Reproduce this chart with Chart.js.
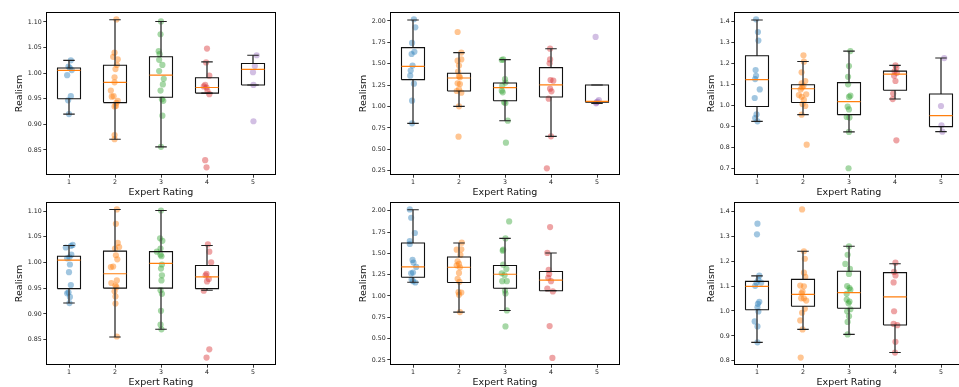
<!DOCTYPE html>
<html><head><meta charset="utf-8">
<script src="https://cdn.jsdelivr.net/npm/chart.js@4.4.1/dist/chart.umd.min.js"></script>
<style>
html,body{margin:0;padding:0;background:#fff;overflow:hidden;width:959px;height:387px;position:relative;}
canvas{position:absolute;}
</style></head><body>
<canvas id="c1" width="280" height="198" style="left:0px;top:0px"></canvas>
<canvas id="c2" width="280" height="198" style="left:344px;top:0px"></canvas>
<canvas id="c3" width="280" height="198" style="left:688px;top:0px"></canvas>
<canvas id="c4" width="280" height="194" style="left:0px;top:194px"></canvas>
<canvas id="c5" width="280" height="194" style="left:344px;top:194px"></canvas>
<canvas id="c6" width="280" height="194" style="left:688px;top:194px"></canvas>
<script>
// ---------- shared ----------
const categories = [1, 2, 3, 4, 5];
const xTickLabels = ['1', '2', '3', '4', '5'];
const xTitle = 'Expert Rating';
const yTitle = 'Realism';
const seriesColors = ['rgba(31,119,180,0.42)', 'rgba(255,127,14,0.45)', 'rgba(44,160,44,0.42)', 'rgba(214,39,40,0.42)', 'rgba(148,103,189,0.42)'];

// ---------- tick values / labels ----------
const ticksA = [0.85, 0.90, 0.95, 1.00, 1.05, 1.10];
const labelsA = ['0.85', '0.90', '0.95', '1.00', '1.05', '1.10'];
const ticksB = [0.25, 0.50, 0.75, 1.00, 1.25, 1.50, 1.75, 2.00];
const labelsB = ['0.25', '0.50', '0.75', '1.00', '1.25', '1.50', '1.75', '2.00'];
const ticksC = [0.7, 0.8, 0.9, 1.0, 1.1, 1.2, 1.3, 1.4];
const labelsC = ['0.7', '0.8', '0.9', '1.0', '1.1', '1.2', '1.3', '1.4'];
const ticksF = [0.8, 0.9, 1.0, 1.1, 1.2, 1.3, 1.4];
const labelsF = ['0.8', '0.9', '1.0', '1.1', '1.2', '1.3', '1.4'];

// ---------- panel 1 (top-left) ----------
const p1_q1  = [0.950, 0.9425, 0.953, 0.961, 0.977];
const p1_med = [1.0056, 0.982, 0.996, 0.972, 1.0075];
const p1_q3  = [1.010, 1.0154, 1.032, 0.991, 1.019];
const p1_lo  = [0.920, 0.871, 0.856, 0.961, 0.977];
const p1_hi  = [1.025, 1.1045, 1.101, 1.022, 1.035];
const p1_c1_x = [1.04, 0.99, 1.02, 1.06, 0.96, 1.04, 0.98, 1.00];
const p1_c1_y = [1.025, 1.013, 1.010, 1.006, 0.996, 0.955, 0.947, 0.920];
const p1_c2_x = [2.03, 1.99, 1.96, 2.06, 2.04, 2.01, 1.99, 1.99, 1.91, 1.97, 1.93, 2.06, 2.03, 1.99, 2.02, 1.99, 1.99];
const p1_c2_y = [1.105, 1.040, 1.032, 1.027, 1.016, 1.008, 0.992, 0.982, 0.966, 0.955, 0.954, 0.946, 0.942, 0.935, 0.936, 0.879, 0.871];
const p1_c3_x = [3.00, 2.99, 2.95, 2.97, 2.96, 3.03, 2.96, 3.06, 3.04, 2.99, 3.02, 3.05, 3.03, 3.00];
const p1_c3_y = [1.101, 1.076, 1.043, 1.037, 1.026, 1.016, 1.004, 0.989, 0.978, 0.966, 0.949, 0.946, 0.917, 0.856];
const p1_c4_x = [4.00, 3.98, 4.05, 3.96, 3.99, 3.93, 4.01, 4.05, 3.96, 3.99];
const p1_c4_y = [1.048, 1.021, 0.995, 0.977, 0.972, 0.974, 0.965, 0.959, 0.830, 0.816];
const p1_c5_x = [5.08, 5.04, 5.00, 5.01, 5.01];
const p1_c5_y = [1.035, 1.014, 1.002, 0.977, 0.906];

// ---------- panel 2 (top-middle) ----------
const p2_q1  = [1.314, 1.181, 1.068, 1.111, 1.049];
const p2_med = [1.47, 1.333, 1.22, 1.252, 1.06];
const p2_q3  = [1.688, 1.388, 1.275, 1.454, 1.252];
const p2_lo  = [0.803, 1.002, 0.834, 0.651, 1.037];
const p2_hi  = [2.012, 1.63, 1.548, 1.676, 1.252];
const p2_c1_x = [1.02, 1.05, 0.98, 0.97, 1.03, 0.99, 0.95, 0.94, 1.02, 0.98, 0.98];
const p2_c1_y = [2.02, 1.926, 1.743, 1.614, 1.64, 1.478, 1.42, 1.36, 1.267, 1.068, 0.803];
const p2_c2_x = [1.97, 2.05, 1.97, 2.05, 2.00, 1.98, 2.00, 2.02, 1.97, 2.02, 2.00, 2.05, 1.95, 2.00, 1.99];
const p2_c2_y = [1.871, 1.63, 1.536, 1.55, 1.478, 1.408, 1.353, 1.341, 1.271, 1.263, 1.20, 1.162, 1.181, 1.002, 0.647];
const p2_c3_x = [2.93, 2.96, 3.00, 3.01, 2.94, 2.93, 2.95, 2.98, 3.01, 3.06, 3.02];
const p2_c3_y = [1.544, 1.55, 1.32, 1.28, 1.244, 1.185, 1.166, 1.049, 1.04, 0.834, 0.577];
const p2_c4_x = [3.98, 3.98, 3.97, 3.99, 4.05, 3.98, 4.01, 3.95, 4.00, 3.91];
const p2_c4_y = [1.676, 1.55, 1.505, 1.31, 1.302, 1.209, 1.178, 1.092, 0.651, 0.277];
const p2_c5_x = [4.97, 5.04, 5.01, 4.98, 4.99];
const p2_c5_y = [1.813, 1.076, 1.057, 1.037, 1.048];

// ---------- panel 3 (top-right) ----------
const p3_q1  = [0.994, 1.013, 0.955, 1.071, 0.898];
const p3_med = [1.121, 1.078, 1.017, 1.148, 0.95];
const p3_q3  = [1.235, 1.097, 1.107, 1.162, 1.053];
const p3_lo  = [0.923, 0.955, 0.873, 1.029, 0.874];
const p3_hi  = [1.405, 1.208, 1.257, 1.189, 1.224];
const p3_c1_x = [0.98, 1.02, 1.03, 0.97, 0.98, 0.96, 1.06, 0.95, 0.99, 0.96, 1.01];
const p3_c1_y = [1.408, 1.348, 1.307, 1.167, 1.14, 1.124, 1.075, 1.034, 0.956, 0.939, 0.923];
const p3_c2_x = [2.01, 2.02, 1.97, 2.05, 1.97, 2.01, 1.98, 1.95, 1.91, 2.07, 1.97, 2.02, 1.99, 2.05, 1.97, 2.08];
const p3_c2_y = [1.237, 1.207, 1.156, 1.115, 1.104, 1.091, 1.085, 1.075, 1.048, 1.052, 1.04, 1.025, 1.006, 0.996, 0.955, 0.812];
const p3_c3_x = [3.03, 3.00, 2.98, 2.98, 3.03, 3.00, 2.97, 3.00, 2.95, 3.01, 3.00, 2.99];
const p3_c3_y = [1.257, 1.186, 1.135, 1.099, 1.045, 1.039, 0.993, 0.98, 0.944, 0.941, 0.873, 0.70];
const p3_c4_x = [4.01, 4.03, 3.99, 4.04, 3.98, 4.01, 3.96, 3.95, 4.03];
const p3_c4_y = [1.189, 1.178, 1.161, 1.154, 1.14, 1.115, 1.055, 1.029, 0.833];
const p3_c5_x = [5.07, 5.00, 5.01, 5.03];
const p3_c5_y = [1.224, 0.996, 0.904, 0.874];

// ---------- panel 4 (bottom-left) ----------
const p4_q1  = [0.949, 0.950, 0.950, 0.949, null];
const p4_med = [1.0046, 0.978, 0.998, 0.972, null];
const p4_q3  = [1.012, 1.022, 1.021, 0.994, null];
const p4_lo  = [0.921, 0.855, 0.870, 0.946, null];
const p4_hi  = [1.033, 1.103, 1.101, 1.033, null];
const p4_c1_x = [1.08, 1.04, 0.93, 1.05, 1.01, 0.96, 1.02, 1.00, 1.04, 0.99, 0.96, 1.02, 1.01];
const p4_c1_y = [1.034, 1.032, 1.029, 1.015, 1.010, 1.008, 0.996, 0.981, 0.956, 0.942, 0.940, 0.933, 0.921];
const p4_c2_x = [2.04, 2.02, 2.06, 2.09, 2.00, 2.02, 2.05, 1.96, 1.91, 2.04, 1.92, 2.01, 2.03, 1.99, 2.01, 2.01, 2.04];
const p4_c2_y = [1.103, 1.075, 1.038, 1.030, 1.027, 1.014, 1.006, 0.992, 0.991, 0.965, 0.960, 0.955, 0.952, 0.944, 0.934, 0.920, 0.856];
const p4_c3_x = [3.00, 2.98, 3.03, 2.99, 2.91, 2.99, 3.01, 3.02, 3.00, 3.02, 3.01, 2.99, 3.02, 3.00, 2.99, 3.01];
const p4_c3_y = [1.101, 1.047, 1.042, 1.027, 1.021, 1.015, 1.012, 0.996, 0.988, 0.975, 0.965, 0.946, 0.939, 0.906, 0.879, 0.870];
const p4_c4_x = [4.02, 4.05, 4.09, 3.99, 3.97, 4.04, 4.00, 3.93, 4.05, 3.99];
const p4_c4_y = [1.035, 1.021, 1.000, 0.978, 0.975, 0.968, 0.963, 0.945, 0.831, 0.815];
const p4_c5_x = [];
const p4_c5_y = [];

// ---------- panel 5 (bottom-middle) ----------
const p5_q1  = [1.22, 1.158, 1.091, 1.061, null];
const p5_med = [1.341, 1.337, 1.255, 1.185, null];
const p5_q3  = [1.622, 1.458, 1.357, 1.287, null];
const p5_lo  = [1.162, 0.811, 0.83, 1.061, null];
const p5_hi  = [2.012, 1.622, 1.676, 1.505, null];
const p5_c1_x = [0.93, 0.96, 1.04, 0.93, 0.93, 0.99, 1.01, 1.07, 0.96, 1.00, 0.97, 1.00, 1.05];
const p5_c1_y = [2.016, 1.918, 1.739, 1.645, 1.61, 1.423, 1.392, 1.341, 1.267, 1.275, 1.193, 1.174, 1.158];
const p5_c2_x = [2.06, 1.95, 2.05, 2.03, 1.97, 2.00, 1.95, 2.02, 2.00, 1.97, 2.01, 1.99, 2.05, 2.00, 2.02];
const p5_c2_y = [1.626, 1.544, 1.548, 1.482, 1.407, 1.376, 1.36, 1.337, 1.271, 1.201, 1.166, 1.045, 1.041, 1.014, 0.811];
const p5_c3_x = [3.09, 3.01, 2.96, 2.95, 2.96, 3.03, 2.93, 2.99, 2.94, 3.04, 3.00, 3.01, 3.04, 3.01];
const p5_c3_y = [1.875, 1.676, 1.544, 1.532, 1.368, 1.318, 1.267, 1.244, 1.174, 1.174, 1.064, 1.029, 0.83, 0.643];
const p5_c4_x = [3.98, 3.92, 3.95, 3.96, 3.94, 4.00, 3.92, 4.04, 3.97, 4.03];
const p5_c4_y = [1.809, 1.505, 1.306, 1.259, 1.213, 1.174, 1.088, 1.053, 0.647, 0.273];
const p5_c5_x = [];
const p5_c5_y = [];

// ---------- panel 6 (bottom-right) ----------
const p6_q1  = [1.005, 1.019, 1.011, 0.944, null];
const p6_med = [1.099, 1.067, 1.074, 1.057, null];
const p6_q3  = [1.119, 1.127, 1.16, 1.154, null];
const p6_lo  = [0.874, 0.926, 0.906, 0.833, null];
const p6_hi  = [1.141, 1.24, 1.26, 1.19, null];
const p6_c1_x = [1.01, 1.00, 1.05, 1.03, 0.99, 1.09, 0.96, 1.05, 1.02, 1.01, 1.03, 0.95, 1.01, 1.01];
const p6_c1_y = [1.351, 1.308, 1.142, 1.125, 1.114, 1.114, 1.101, 1.037, 1.029, 1.015, 0.998, 0.958, 0.938, 0.874];
const p6_c2_x = [1.98, 2.02, 2.04, 2.02, 2.05, 1.94, 2.02, 1.99, 1.97, 2.02, 1.96, 2.07, 2.04, 1.98, 1.94, 1.99, 1.95];
const p6_c2_y = [1.408, 1.24, 1.21, 1.154, 1.137, 1.102, 1.099, 1.078, 1.071, 1.051, 1.051, 1.042, 1.009, 0.993, 0.962, 0.926, 0.813];
const p6_c3_x = [3.00, 2.97, 2.92, 3.02, 3.00, 2.96, 3.01, 3.03, 2.95, 2.95, 3.01, 2.99, 3.03, 2.96, 3.00, 2.97, 2.97];
const p6_c3_y = [1.26, 1.226, 1.189, 1.169, 1.149, 1.10, 1.092, 1.085, 1.069, 1.046, 1.038, 1.031, 1.007, 0.999, 0.979, 0.956, 0.906];
const p6_c4_x = [4.01, 3.98, 4.01, 3.97, 3.98, 3.97, 4.05, 4.01, 4.00];
const p6_c4_y = [1.194, 1.157, 1.143, 1.115, 0.999, 0.948, 0.943, 0.876, 0.833];
const p6_c5_x = [];
const p6_c5_y = [];

// ---------- panel table (built from the arrays above) ----------
const panels = [
  {id:'c1', yMin:0.801, yMax:1.1195, ticks:ticksA, labels:labelsA, titlePad:14.1, padTop:12,
   q1:p1_q1, med:p1_med, q3:p1_q3, lo:p1_lo, hi:p1_hi,
   pts:[[p1_c1_x,p1_c1_y],[p1_c2_x,p1_c2_y],[p1_c3_x,p1_c3_y],[p1_c4_x,p1_c4_y],[p1_c5_x,p1_c5_y]]},
  {id:'c2', yMin:0.199, yMax:2.105, ticks:ticksB, labels:labelsB, titlePad:14.0, padTop:12,
   q1:p2_q1, med:p2_med, q3:p2_q3, lo:p2_lo, hi:p2_hi,
   pts:[[p2_c1_x,p2_c1_y],[p2_c2_x,p2_c2_y],[p2_c3_x,p2_c3_y],[p2_c4_x,p2_c4_y],[p2_c5_x,p2_c5_y]]},
  {id:'c3', yMin:0.668, yMax:1.443, ticks:ticksC, labels:labelsC, titlePad:18.0, padTop:12,
   q1:p3_q1, med:p3_med, q3:p3_q3, lo:p3_lo, hi:p3_hi,
   pts:[[p3_c1_x,p3_c1_y],[p3_c2_x,p3_c2_y],[p3_c3_x,p3_c3_y],[p3_c4_x,p3_c4_y],[p3_c5_x,p3_c5_y]]},
  {id:'c4', yMin:0.8006, yMax:1.1175, ticks:ticksA, labels:labelsA, titlePad:14.1, padTop:8,
   q1:p4_q1, med:p4_med, q3:p4_q3, lo:p4_lo, hi:p4_hi,
   pts:[[p4_c1_x,p4_c1_y],[p4_c2_x,p4_c2_y],[p4_c3_x,p4_c3_y],[p4_c4_x,p4_c4_y],[p4_c5_x,p4_c5_y]]},
  {id:'c5', yMin:0.19, yMax:2.103, ticks:ticksB, labels:labelsB, titlePad:14.2, padTop:8,
   q1:p5_q1, med:p5_med, q3:p5_q3, lo:p5_lo, hi:p5_hi,
   pts:[[p5_c1_x,p5_c1_y],[p5_c2_x,p5_c2_y],[p5_c3_x,p5_c3_y],[p5_c4_x,p5_c4_y],[p5_c5_x,p5_c5_y]]},
  {id:'c6', yMin:0.783, yMax:1.438, ticks:ticksF, labels:labelsF, titlePad:18.0, padTop:8,
   q1:p6_q1, med:p6_med, q3:p6_q3, lo:p6_lo, hi:p6_hi,
   pts:[[p6_c1_x,p6_c1_y],[p6_c2_x,p6_c2_y],[p6_c3_x,p6_c3_y],[p6_c4_x,p6_c4_y],[p6_c5_x,p6_c5_y]]}
];

const BOX_HALF = 0.25, CAP_HALF = 0.125;
const GAP = c => ({x: c, y: null});

function boxOutline(p) {
  const out = [];
  categories.forEach((c, i) => {
    if (p.q1[i] == null) return;
    out.push({x:c-BOX_HALF,y:p.q1[i]},{x:c+BOX_HALF,y:p.q1[i]},{x:c+BOX_HALF,y:p.q3[i]},
             {x:c-BOX_HALF,y:p.q3[i]},{x:c-BOX_HALF,y:p.q1[i]},GAP(c));
  });
  return out;
}
function whiskerLines(p) {
  const out = [];
  categories.forEach((c, i) => {
    if (p.q1[i] == null) return;
    out.push({x:c,y:p.lo[i]},{x:c,y:p.q1[i]},GAP(c),{x:c,y:p.q3[i]},{x:c,y:p.hi[i]},GAP(c));
  });
  return out;
}
function capLines(p) {
  const out = [];
  categories.forEach((c, i) => {
    if (p.q1[i] == null) return;
    out.push({x:c-CAP_HALF,y:p.lo[i]},{x:c+CAP_HALF,y:p.lo[i]},GAP(c),
             {x:c-CAP_HALF,y:p.hi[i]},{x:c+CAP_HALF,y:p.hi[i]},GAP(c));
  });
  return out;
}
function medianLines(p) {
  const out = [];
  categories.forEach((c, i) => {
    if (p.med[i] == null) return;
    out.push({x:c-BOX_HALF,y:p.med[i]},{x:c+BOX_HALF,y:p.med[i]},GAP(c));
  });
  return out;
}

const framePlugin = {
  id: 'frame',
  afterDraw(chart) {
    const {ctx, chartArea: a} = chart;
    ctx.save();
    ctx.strokeStyle = '#000';
    ctx.lineWidth = 1;
    ctx.strokeRect(Math.round(a.left) + 0.5, Math.round(a.top) + 0.5,
                   Math.round(a.right - a.left) - 1, Math.round(a.bottom - a.top) - 1);
    ctx.restore();
  }
};

const lineBase = {type:'scatter', showLine:true, spanGaps:false, pointRadius:0, pointHoverRadius:0, tension:0, order:0, fill:false};

panels.forEach(p => {
  const datasets = [
    Object.assign({}, lineBase, {label:'median', data:medianLines(p), borderColor:'#ff7f0e', borderWidth:1.2}),
    Object.assign({}, lineBase, {label:'box', data:boxOutline(p), borderColor:'#111', borderWidth:1.1}),
    Object.assign({}, lineBase, {label:'caps', data:capLines(p), borderColor:'#222', borderWidth:1.1}),
    Object.assign({}, lineBase, {label:'whiskers', data:whiskerLines(p), borderColor:'#4a4a4a', borderWidth:1.5})
  ];
  p.pts.forEach((xy, k) => {
    datasets.push({
      type:'scatter', label:'rating ' + categories[k], order:1,
      data: xy[0].map((x, i) => ({x: x, y: xy[1][i]})),
      backgroundColor: seriesColors[k], borderWidth:0, pointRadius:3.1, pointHoverRadius:3.1, showLine:false
    });
  });

  new Chart(document.getElementById(p.id), {
    type: 'scatter',
    data: {datasets},
    plugins: [framePlugin],
    options: {
      responsive:false, animation:false, events:[],
      layout: {padding: {top:p.padTop, right:4, left:0, bottom:0}},
      plugins: {legend:{display:false}, tooltip:{enabled:false}},
      scales: {
        x: {
          type:'linear', min:0.5, max:5.5,
          afterBuildTicks: s => { s.ticks = categories.map(v => ({value:v})); },
          afterFit: s => { s.height = 23; },
          ticks: {autoSkip:false, maxRotation:0, padding:1, color:'#222',
                  font:{family:'DejaVu Sans', size:6.3},
                  callback: (v, i) => xTickLabels[i]},
          grid: {display:true, drawOnChartArea:false, drawTicks:true, tickLength:2.7, tickColor:'#222', tickWidth:0.9},
          border: {display:false},
          title: {display:true, text:xTitle, color:'#111', padding:{top:0,bottom:0},
                  font:{family:'DejaVu Sans', size:9.5}}
        },
        y: {
          type:'linear', min:p.yMin, max:p.yMax,
          afterBuildTicks: s => { s.ticks = p.ticks.map(v => ({value:v})); },
          afterFit: s => { s.width = 46; },
          ticks: {autoSkip:false, padding:1.6, color:'#222',
                  font:{family:'DejaVu Sans', size:6.3},
                  callback: (v, i) => p.labels[i]},
          grid: {display:true, drawOnChartArea:false, drawTicks:true, tickLength:2.7, tickColor:'#222', tickWidth:0.9},
          border: {display:false},
          title: {display:true, text:yTitle, color:'#111', padding:{top:p.titlePad,bottom:0},
                  font:{family:'DejaVu Sans', size:9.5}}
        }
      }
    }
  });
});
</script>
</body></html>
